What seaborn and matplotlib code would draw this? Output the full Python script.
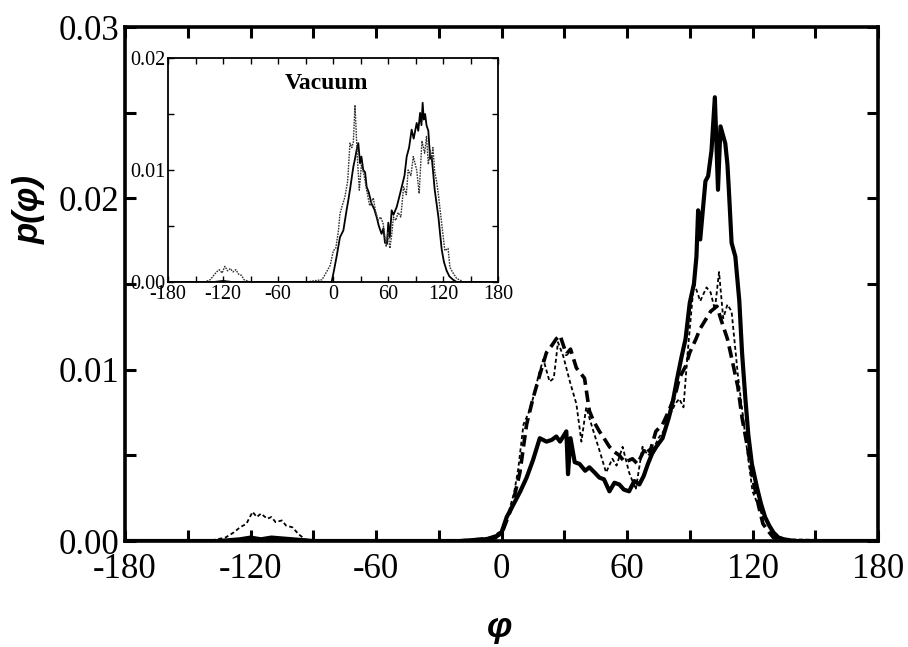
import matplotlib
matplotlib.use('Agg')
import matplotlib.pyplot as plt
from matplotlib.ticker import MultipleLocator
import seaborn as sns

# ── Main panel data (phi in degrees, p(phi)) ────────────────────────────────
phi_solid = [-180, -135, -125, -120, -115, -110, -100, -90, -20, -8, -3, 0, 2.5, 6, 9, 12, 15,
             18.3, 21.5, 24, 26.2, 28, 31, 31.8, 33, 35, 37.3, 40, 42, 44.5, 46.8, 49, 51.6, 54,
             56.3, 58.5, 61, 63.5, 65.9, 68, 70, 72, 74, 77, 80, 82, 84, 86, 88, 90, 92, 93.2,
             94, 95, 97.5, 98.8, 100.4, 102, 103.5, 104.7, 107, 108, 108.7, 110, 111.8, 113.7,
             115, 116.6, 118, 119.7, 122, 124, 126, 128, 130, 132.4, 135, 140, 180]
p_solid = [0, 0, 0.0001, 0.0002, 0.0001, 0.0002, 0.0001, 0, 0, 0.0001, 0.0002, 0.0005, 0.0014,
           0.0022, 0.0029, 0.0037, 0.0047, 0.0060, 0.0058, 0.0059, 0.0061, 0.0058, 0.0064,
           0.0039, 0.0060, 0.0046, 0.0045, 0.0041, 0.0043, 0.0040, 0.0037, 0.0036, 0.0029,
           0.0034, 0.0033, 0.0030, 0.0029, 0.0035, 0.0033, 0.0038, 0.0045, 0.0051, 0.0055,
           0.0060, 0.0072, 0.0082, 0.0095, 0.0107, 0.0118, 0.0139, 0.0150, 0.0166, 0.0193,
           0.0176, 0.0210, 0.0213, 0.0228, 0.0259, 0.0205, 0.0242, 0.0232, 0.0220, 0.0205,
           0.0174, 0.0166, 0.0140, 0.0110, 0.0083, 0.0062, 0.0045, 0.0032, 0.0022, 0.0014,
           0.0009, 0.0005, 0.0002, 0.0001, 0, 0]

phi_dash = [-180, -20, -10, -5, 0, 2.5, 5, 8.8, 12, 15, 18.3, 21.5, 24, 26.2, 28, 31, 33, 35.8,
            39.7, 42, 44, 46.8, 49, 51.6, 54, 56.3, 59, 62.6, 65, 69, 71, 73.8, 77, 80, 83, 85,
            88, 90, 93, 95, 98, 100, 103, 105, 108, 110, 113, 115, 118, 120, 123, 125, 128,
            130, 135, 180]
p_dash = [0, 0, 0.0001, 0.0002, 0.0004, 0.0012, 0.0020, 0.0040, 0.0068, 0.0083, 0.0097, 0.0110,
          0.0114, 0.0118, 0.0120, 0.0109, 0.0112, 0.0101, 0.0095, 0.0076, 0.0070, 0.0064,
          0.0060, 0.0055, 0.0052, 0.0050, 0.0046, 0.0048, 0.0045, 0.0055, 0.0052, 0.0064,
          0.0068, 0.0076, 0.0085, 0.0095, 0.0102, 0.0110, 0.0118, 0.0124, 0.0130, 0.0134,
          0.0137, 0.0129, 0.0118, 0.0107, 0.0090, 0.0072, 0.0052, 0.0037, 0.0020, 0.0010,
          0.0005, 0.0002, 0, 0]

phi_dot = [-180, -140, -132, -128, -125, -122, -119, -117, -115, -112, -110, -108, -105, -103,
           -100, -97, -94, -90, -30, -10, -5, 0, 3, 6, 8, 10.5, 13, 15, 18, 20, 23, 25, 27, 29.5,
           32.7, 35.8, 38.2, 40.5, 43.7, 46.8, 50, 53, 55, 57.9, 61, 64.2, 67.4, 70, 72, 75, 78,
           80, 83, 85, 87, 89, 92, 95, 98, 100, 102, 104, 106, 108, 110, 113, 117, 120, 125,
           130, 135, 180]
p_dot = [0, 0, 0.0002, 0.0005, 0.0008, 0.0010, 0.0017, 0.0014, 0.0016, 0.0013, 0.0014, 0.0011,
         0.0012, 0.0009, 0.0008, 0.0004, 0.0001, 0, 0, 0.0001, 0.0002, 0.0006, 0.0015, 0.0028,
         0.0042, 0.0068, 0.0075, 0.0083, 0.0098, 0.0106, 0.0093, 0.0095, 0.0116, 0.0108,
         0.0093, 0.0080, 0.0058, 0.0078, 0.0065, 0.0053, 0.0040, 0.0048, 0.0044, 0.0055,
         0.0040, 0.0030, 0.0055, 0.0050, 0.0052, 0.0060, 0.0065, 0.0072, 0.0080, 0.0083,
         0.0078, 0.0110, 0.0151, 0.0140, 0.0148, 0.0145, 0.0135, 0.0157, 0.0130, 0.0138,
         0.0134, 0.0097, 0.0057, 0.0029, 0.0014, 0.0005, 0.0001, 0]

# ── Inset (vacuum) data ─────────────────────────────────────────────────────
phi_vac_solid = [-180, -130, -120, -110, -5, -1.5, 1, 4, 7.6, 11.3, 15, 16.7, 19, 22.2, 24, 25.8,
                 27.6, 29.5, 31, 33, 35, 36.7, 39, 42, 45, 47.6, 50, 53, 55, 56.7, 58.9, 60.3,
                 62, 64, 66, 69.5, 72, 75, 78, 80.4, 83, 85.8, 88, 91.3, 93, 95, 96.5, 97.8, 99,
                 100.5, 102, 104, 106, 107.6, 109, 111, 113, 115, 116.7, 118.6, 121, 124, 127,
                 131, 135, 180]
p_vac_solid = [0, 0, 0.0001, 0, 0, 0, 0.0010, 0.0023, 0.0040, 0.0046, 0.0065, 0.0073, 0.0085,
               0.0103, 0.0110, 0.0118, 0.0124, 0.0106, 0.0112, 0.0100, 0.0098, 0.0085, 0.0080,
               0.0070, 0.0065, 0.0058, 0.0050, 0.0043, 0.0048, 0.0035, 0.0034, 0.0053, 0.0040,
               0.0064, 0.0060, 0.0067, 0.0075, 0.0085, 0.0095, 0.0112, 0.0120, 0.0136, 0.0128,
               0.0142, 0.0135, 0.0151, 0.0140, 0.0160, 0.0145, 0.0150, 0.0140, 0.0135, 0.0110,
               0.0112, 0.0100, 0.0082, 0.0070, 0.0058, 0.0044, 0.0029, 0.0018, 0.0010, 0.0005,
               0.0002, 0, 0]

phi_vac_dot = [-180, -140, -134, -130, -127, -124, -121, -118, -115, -112, -109, -106, -103,
               -100, -97, -90, -30, -12, -7, -3, 0.4, 3, 5.8, 7.6, 10, 13, 16, 18.5, 20.5, 22.2,
               24, 26.5, 28.7, 31, 34, 36.7, 40, 44, 46, 49, 52, 54.7, 58, 60, 62, 64, 66, 68.5,
               71, 74, 77, 80, 82, 85, 87.6, 91.3, 94, 97, 100, 102, 104, 106, 107.6, 109, 111,
               113, 115, 118.6, 122, 125.5, 127.6, 131, 135, 138, 142, 180]
p_vac_dot = [0, 0, 0.0002, 0.0006, 0.0009, 0.0011, 0.0008, 0.0014, 0.0010, 0.0012, 0.0009,
             0.0011, 0.0007, 0.0006, 0.0002, 0, 0, 0.0002, 0.0009, 0.0015, 0.0028, 0.0030,
             0.0045, 0.0061, 0.0068, 0.0076, 0.0090, 0.0124, 0.0120, 0.0125, 0.0158, 0.0112,
             0.0082, 0.0105, 0.0095, 0.0082, 0.0068, 0.0075, 0.0065, 0.0055, 0.0058, 0.0052,
             0.0032, 0.0045, 0.0030, 0.0042, 0.0058, 0.0055, 0.0062, 0.0058, 0.0085, 0.0078,
             0.0100, 0.0095, 0.0112, 0.0100, 0.0079, 0.0126, 0.0115, 0.0130, 0.0105, 0.0118,
             0.0110, 0.0120, 0.0098, 0.0090, 0.0078, 0.0052, 0.0028, 0.0030, 0.0013, 0.0008,
             0.0003, 0.0002, 0, 0]

x_ticks = [-180, -120, -60, 0, 60, 120, 180]
y_ticks_main = [0.00, 0.01, 0.02, 0.03]
y_ticks_inset = [0.00, 0.01, 0.02]

# ── Style ───────────────────────────────────────────────────────────────────
sns.set_style('ticks')
plt.rcParams['font.family'] = ['Liberation Serif', 'DejaVu Serif']
plt.rcParams.update({'axes.unicode_minus': False, 'axes.edgecolor': 'black',
                     'text.color': 'black', 'axes.labelcolor': 'black',
                     'xtick.color': 'black', 'ytick.color': 'black'})

fig = plt.figure(figsize=(9.08, 6.47), dpi=100)
ax = fig.add_axes([125 / 908, 1 - 541 / 647, 753 / 908, 514 / 647])

sns.lineplot(x=phi_solid, y=p_solid, ax=ax, color='black', linewidth=3.0)
sns.lineplot(x=phi_dash, y=p_dash, ax=ax, color='black', linewidth=2.6)
ax.lines[-1].set_dashes([3.2, 1.6])
sns.lineplot(x=phi_dot, y=p_dot, ax=ax, color='black', linewidth=1.3)
ax.lines[-1].set_dashes([2.2, 1.5])

ax.set_xlim(-180, 180)
ax.set_ylim(0, 0.03)
ax.set_xticks(x_ticks)
ax.set_xticklabels([str(v) for v in x_ticks])
ax.set_yticks(y_ticks_main)
ax.set_yticklabels([f'{v:.2f}' for v in y_ticks_main])
ax.xaxis.set_minor_locator(MultipleLocator(30))
ax.yaxis.set_minor_locator(MultipleLocator(0.005))
ax.tick_params(which='both', direction='in', top=True, right=True, length=8, width=2.2,
               labelsize=25)
ax.tick_params(axis='x', which='major', pad=9)
ax.tick_params(axis='y', which='major', pad=4)
for s in ax.spines.values():
    s.set_linewidth(2.6)

ax.set_xlabel('φ', fontsize=26, fontweight='bold', style='italic',
              family=['Liberation Sans', 'DejaVu Sans'])
ax.set_ylabel('p(φ)', fontsize=25, fontweight='bold', style='italic',
              family=['Liberation Sans', 'DejaVu Sans'])
ax.xaxis.set_label_coords(0.497, -0.135)
ax.yaxis.set_label_coords(-0.105, 0.645)

# ── Inset ───────────────────────────────────────────────────────────────────
axin = fig.add_axes([168 / 908, 1 - 282 / 647, 330 / 908, 224 / 647])
sns.lineplot(x=phi_vac_solid, y=p_vac_solid, ax=axin, color='black', linewidth=1.3)
sns.lineplot(x=phi_vac_dot, y=p_vac_dot, ax=axin, color='#333333', linewidth=1.0)
axin.lines[-1].set_dashes([1.2, 0.8])

axin.set_xlim(-180, 180)
axin.set_ylim(0, 0.02)
axin.set_xticks(x_ticks)
axin.set_xticklabels([str(v) for v in x_ticks])
axin.set_yticks(y_ticks_inset)
axin.set_yticklabels([f'{v:.2f}' for v in y_ticks_inset])
axin.xaxis.set_minor_locator(MultipleLocator(30))
axin.yaxis.set_minor_locator(MultipleLocator(0.005))
axin.tick_params(which='both', direction='in', top=True, right=True, length=4, width=1.0,
                 labelsize=14.5, pad=2)
for s in axin.spines.values():
    s.set_linewidth(1.3)
axin.text(-7, 0.0177, 'Vacuum', ha='center', va='center', fontsize=17, fontweight='bold')

fig.savefig('out.png', dpi=100)
